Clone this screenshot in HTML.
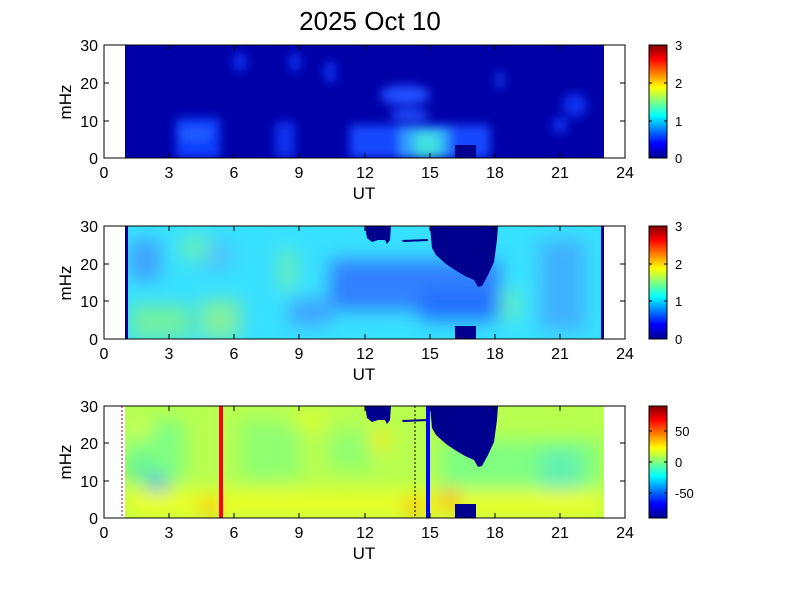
<!DOCTYPE html>
<html><head><meta charset="utf-8"><style>
body{margin:0;background:#fff}
svg text{font-family:"Liberation Sans",sans-serif;fill:#000}
</style></head><body>
<svg width="801" height="600" viewBox="0 0 801 600" xmlns="http://www.w3.org/2000/svg">
<defs>
<linearGradient id="jet" x1="0" y1="1" x2="0" y2="0">
<stop offset="0" stop-color="#00008f"/><stop offset="0.125" stop-color="#0000ff"/>
<stop offset="0.375" stop-color="#00ffff"/><stop offset="0.625" stop-color="#ffff00"/>
<stop offset="0.875" stop-color="#ff0000"/><stop offset="1" stop-color="#800000"/>
</linearGradient>
<filter id="b" x="-50%" y="-50%" width="200%" height="200%"><feGaussianBlur stdDeviation="5"/></filter>
<filter id="b2" x="-50%" y="-50%" width="200%" height="200%"><feGaussianBlur stdDeviation="9"/></filter>
<clipPath id="c1"><rect x="125" y="45" width="479" height="113"/></clipPath>
<clipPath id="c2"><rect x="125" y="226" width="479" height="113"/></clipPath>
<clipPath id="c3"><rect x="125" y="406" width="479" height="112"/></clipPath>
</defs>
<text x="370" y="30" font-size="26" text-anchor="middle">2025 Oct 10</text>

<!-- Panel 1 -->
<rect x="125" y="45" width="479" height="113" fill="#0000a8"/>
<g clip-path="url(#c1)" filter="url(#b)">
<rect x="176" y="118" width="44" height="40" fill="#1040ff"/>
<rect x="180" y="128" width="30" height="12" fill="#2060ff"/>
<rect x="275" y="122" width="20" height="36" fill="#1030f0"/>
<rect x="350" y="125" width="140" height="33" fill="#1848ff"/>
<rect x="400" y="128" width="50" height="30" fill="#30a0ff"/>
<rect x="415" y="132" width="25" height="26" fill="#40e0e0"/>
<ellipse cx="405" cy="95" rx="25" ry="10" fill="#2050ff"/>
<ellipse cx="410" cy="115" rx="20" ry="6" fill="#2050ff"/>
<ellipse cx="240" cy="62" rx="7" ry="10" fill="#1030f0"/>
<ellipse cx="295" cy="62" rx="6" ry="10" fill="#1030f0"/>
<ellipse cx="330" cy="72" rx="6" ry="12" fill="#1030f0"/>
<ellipse cx="575" cy="105" rx="12" ry="12" fill="#1030f0"/>
<ellipse cx="560" cy="125" rx="8" ry="8" fill="#1030f0"/>
<ellipse cx="500" cy="80" rx="5" ry="10" fill="#1030e0"/>
</g>
<rect x="455" y="145" width="21" height="13" fill="#00008f"/>
<rect x="104" y="45" width="521" height="113" fill="none" stroke="#000"/>

<!-- Panel 2 -->
<rect x="125" y="226" width="479" height="113" fill="#38e0ff"/>
<g clip-path="url(#c2)" filter="url(#b2)">
<rect x="130" y="240" width="30" height="40" fill="#40a0ff"/>
<rect x="200" y="240" width="30" height="30" fill="#50c0ff"/>
<rect x="330" y="260" width="170" height="50" fill="#3080ff"/>
<rect x="420" y="290" width="80" height="30" fill="#2070ff"/>
<rect x="130" y="305" width="60" height="34" fill="#70f0a0"/>
<rect x="200" y="300" width="40" height="39" fill="#80f0a0"/>
<rect x="180" y="235" width="30" height="25" fill="#60f0c0"/>
<rect x="280" y="250" width="15" height="40" fill="#70f0b0"/>
<rect x="540" y="240" width="45" height="90" fill="#40b0ff"/>
<rect x="500" y="290" width="20" height="30" fill="#60f0c0"/>
<rect x="290" y="300" width="40" height="25" fill="#40a0ff"/>
</g>
<rect x="125" y="226" width="3" height="113" fill="#00008f"/>
<rect x="601" y="226" width="3" height="113" fill="#00008f"/>
<path d="M365,226 L391,226 L390,240 L387,244 L385,240 L378,240 L372,242 L367,238 Z" fill="#00008f"/>
<path d="M402,240 L428,239 L428,241 L403,242 Z" fill="#00008f"/>
<path d="M430,226 L498,226 L497,240 L494,262 L488,275 L482,286 L478,287 L474,280 L465,276 L455,270 L446,264 L436,255 L432,248 Z" fill="#00008f"/>
<rect x="455" y="326" width="21" height="13" fill="#00008f"/>
<rect x="104" y="226" width="521" height="113" fill="none" stroke="#000"/>

<!-- Panel 3 -->
<rect x="125" y="406" width="479" height="112" fill="#b8ff50"/>
<g clip-path="url(#c3)" filter="url(#b2)">
<rect x="125" y="420" width="60" height="60" fill="#80ff80"/>
<ellipse cx="157" cy="485" rx="10" ry="10" fill="#2090ff"/>
<rect x="125" y="460" width="30" height="20" fill="#60f0a0"/>
<rect x="240" y="420" width="60" height="60" fill="#90ff70"/>
<rect x="330" y="430" width="40" height="40" fill="#90ff70"/>
<rect x="440" y="440" width="160" height="50" fill="#80ff80"/>
<rect x="540" y="450" width="40" height="40" fill="#60f0b0"/>
<rect x="125" y="490" width="479" height="28" fill="#e8ff28"/>
<ellipse cx="210" cy="508" rx="10" ry="10" fill="#ffc000"/>
<ellipse cx="415" cy="508" rx="12" ry="10" fill="#ffc000"/>
<ellipse cx="450" cy="500" rx="10" ry="12" fill="#ffb000"/>
<ellipse cx="380" cy="440" rx="12" ry="12" fill="#e8f020"/>
<ellipse cx="140" cy="430" rx="12" ry="8" fill="#e0ff30"/>
<ellipse cx="310" cy="420" rx="20" ry="10" fill="#d8ff30"/>
</g>
<path d="M365,406 L391,406 L390,420 L387,424 L385,420 L378,420 L372,422 L367,418 Z" fill="#00008f"/>
<path d="M402,420 L428,419 L428,421 L403,422 Z" fill="#00008f"/>
<path d="M430,406 L498,406 L497,420 L494,442 L488,455 L482,466 L478,467 L474,460 L465,456 L455,450 L446,444 L436,435 L432,428 Z" fill="#00008f"/>
<rect x="455" y="504" width="21" height="14" fill="#00008f"/>
<rect x="219" y="406" width="4" height="112" fill="#ff0000"/>
<rect x="426" y="406" width="4" height="112" fill="#0000ff"/>
<line x1="122" y1="406" x2="122" y2="518" stroke="#c00000" stroke-dasharray="2,2"/>
<line x1="415" y1="406" x2="415" y2="518" stroke="#000" stroke-dasharray="2,2"/>
<rect x="104" y="406" width="521" height="112" fill="none" stroke="#000"/>

<!-- ticks and labels -->
<g stroke="#000" stroke-width="1">
<path d="M104,83h5M104,121h5M620,83h5M620,121h5 M104,264h5M104,301h5M620,264h5M620,301h5 M104,443h5M104,481h5M620,443h5M620,481h5"/>
<path d="M169,158v-5M234,158v-5M299,158v-5M365,158v-5M430,158v-5M495,158v-5M560,158v-5 M169,45v5M234,45v5M299,45v5M365,45v5M430,45v5M495,45v5M560,45v5"/>
<path d="M169,339v-5M234,339v-5M299,339v-5M365,339v-5M430,339v-5M495,339v-5M560,339v-5 M169,226v5M234,226v5M299,226v5M365,226v5M430,226v5M495,226v5M560,226v5"/>
<path d="M169,518v-5M234,518v-5M299,518v-5M365,518v-5M430,518v-5M495,518v-5M560,518v-5 M169,406v5M234,406v5M299,406v5M365,406v5M430,406v5M495,406v5M560,406v5"/>
</g>
<g font-size="16" text-anchor="end">
<text x="98" y="51">30</text><text x="98" y="89">20</text><text x="98" y="127">10</text><text x="98" y="164">0</text>
<text x="98" y="232">30</text><text x="98" y="270">20</text><text x="98" y="307">10</text><text x="98" y="345">0</text>
<text x="98" y="412">30</text><text x="98" y="449">20</text><text x="98" y="487">10</text><text x="98" y="524">0</text>
</g>
<g font-size="16" text-anchor="middle">
<text x="104" y="178">0</text><text x="169" y="178">3</text><text x="234" y="178">6</text><text x="299" y="178">9</text><text x="365" y="178">12</text><text x="430" y="178">15</text><text x="495" y="178">18</text><text x="560" y="178">21</text><text x="625" y="178">24</text>
<text x="104" y="359">0</text><text x="169" y="359">3</text><text x="234" y="359">6</text><text x="299" y="359">9</text><text x="365" y="359">12</text><text x="430" y="359">15</text><text x="495" y="359">18</text><text x="560" y="359">21</text><text x="625" y="359">24</text>
<text x="104" y="538">0</text><text x="169" y="538">3</text><text x="234" y="538">6</text><text x="299" y="538">9</text><text x="365" y="538">12</text><text x="430" y="538">15</text><text x="495" y="538">18</text><text x="560" y="538">21</text><text x="625" y="538">24</text>
<text x="364" y="199" font-size="17">UT</text><text x="364" y="380" font-size="17">UT</text><text x="364" y="559" font-size="17">UT</text>
<text transform="translate(71,102) rotate(-90)" font-size="17">mHz</text>
<text transform="translate(71,283) rotate(-90)" font-size="17">mHz</text>
<text transform="translate(71,462) rotate(-90)" font-size="17">mHz</text>
</g>

<!-- colorbars -->
<rect x="649" y="45" width="18" height="113" fill="url(#jet)" stroke="#000"/>
<rect x="649" y="226" width="18" height="113" fill="url(#jet)" stroke="#000"/>
<rect x="649" y="406" width="18" height="112" fill="url(#jet)" stroke="#000"/>
<g stroke="#000"><path d="M649,83h3M667,83h-3M649,121h3M667,121h-3M649,264h3M667,264h-3M649,301h3M667,301h-3M649,431h3M667,431h-3M649,462h3M667,462h-3M649,493h3M667,493h-3"/></g>
<g font-size="13">
<text x="675" y="50">3</text><text x="675" y="88">2</text><text x="675" y="126">1</text><text x="675" y="163">0</text>
<text x="675" y="231">3</text><text x="675" y="269">2</text><text x="675" y="306">1</text><text x="675" y="344">0</text>
<text x="675" y="436">50</text><text x="675" y="467">0</text><text x="675" y="498">-50</text>
</g>
</svg>
</body></html>
